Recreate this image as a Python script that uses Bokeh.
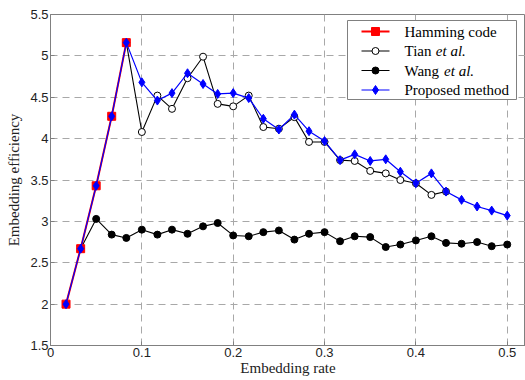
from bokeh.plotting import figure
from bokeh.models import Range1d, FixedTicker, CustomJSTickFormatter
from bokeh.core.properties import value
from bokeh.embed import file_html
from bokeh.resources import INLINE

# Embedding rate (x) for every test point
rate = [0.017, 0.033, 0.050, 0.067, 0.083, 0.100, 0.117, 0.133, 0.150, 0.167,
        0.183, 0.200, 0.217, 0.233, 0.250, 0.267, 0.283, 0.300, 0.317, 0.333,
        0.350, 0.367, 0.383, 0.400, 0.417, 0.433, 0.450, 0.467, 0.483, 0.500]

# Embedding efficiency per method
hamming = [2.00, 2.67, 3.43, 4.27, 5.16]                     # rate[0:5]
tian = [5.16, 4.08, 4.52, 4.36, 4.73, 4.99, 4.42, 4.39, 4.52, 4.14, 4.12,
        4.26, 3.96, 3.96, 3.74, 3.73, 3.61, 3.58, 3.50, 3.46, 3.32, 3.36]  # rate[4:26]
wang = [2.67, 3.03, 2.84, 2.80, 2.90, 2.84, 2.90, 2.85, 2.94, 2.98, 2.83,
        2.82, 2.87, 2.89, 2.78, 2.85, 2.87, 2.76, 2.82, 2.81, 2.69, 2.72,
        2.77, 2.82, 2.74, 2.73, 2.75, 2.70, 2.72]             # rate[1:30]
proposed = [2.00, 2.67, 3.43, 4.27, 5.16, 4.68, 4.46, 4.55, 4.79, 4.66,
            4.54, 4.55, 4.49, 4.24, 4.11, 4.29, 4.09, 3.97, 3.74, 3.81,
            3.73, 3.75, 3.60, 3.46, 3.58, 3.36, 3.26, 3.18, 3.13, 3.07]  # rate[0:30]

x_ticks = [0, 0.1, 0.2, 0.3, 0.4, 0.5]
y_ticks = [1.5, 2, 2.5, 3, 3.5, 4, 4.5, 5, 5.5]

legend_names = ["Hamming code", "Tian", "Wang", "Proposed method"]
legend_suffix = ["", "et al.", "et al.", ""]

X_MAX = 0.52
Y_MIN, Y_MAX = 1.5, 5.5
W, H = 525, 380
B_LEFT, B_RIGHT, B_TOP, B_BOTTOM = 50, 0, 14, 35
FRAME_W = W - B_LEFT - B_RIGHT
FRAME_H = H - B_TOP - B_BOTTOM

AXIS_GREY = "#808080"
GRID_GREY = "#a8a8a8"
SERIF = "Liberation Serif"


def px_x(px):
    """canvas pixel column -> data x"""
    return (px - B_LEFT) / FRAME_W * X_MAX


def px_y(py):
    """canvas pixel row -> data y"""
    return Y_MAX - (py - B_TOP) / FRAME_H * (Y_MAX - Y_MIN)


p = figure(width=W, height=H,
           x_range=Range1d(0, X_MAX), y_range=Range1d(Y_MIN, Y_MAX),
           min_border_left=B_LEFT, min_border_right=B_RIGHT,
           min_border_top=B_TOP, min_border_bottom=B_BOTTOM,
           output_backend="svg", toolbar_location=None)
p.outline_line_color = AXIS_GREY
p.background_fill_color = "white"
p.border_fill_color = "white"

fmt = CustomJSTickFormatter(code="return String(Math.round(tick * 100) / 100);")
xt = FixedTicker(ticks=x_ticks)
yt = FixedTicker(ticks=y_ticks)
p.xaxis.ticker = xt
p.yaxis.ticker = yt
p.xgrid.ticker = xt
p.ygrid.ticker = yt

for ax in (p.xaxis[0], p.yaxis[0]):
    ax.formatter = fmt
    ax.axis_line_color = AXIS_GREY
    ax.major_tick_line_color = AXIS_GREY
    ax.major_tick_in = 4
    ax.major_tick_out = 0
    ax.minor_tick_line_color = None
    ax.major_label_text_font = "Liberation Sans"
    ax.major_label_text_font_size = "13px"
    ax.major_label_text_color = "#222222"
    ax.major_label_standoff = 2
    ax.axis_label_text_font = SERIF
    ax.axis_label_text_font_size = "15px"
    ax.axis_label_text_font_style = "normal"
    ax.axis_label_text_color = "#222222"

p.xaxis.axis_label = "Embedding rate"
p.yaxis.axis_label = "Embedding efficiency"
p.xaxis.axis_label_standoff = 0
p.yaxis.axis_label_standoff = 5

for g in (p.xgrid[0], p.ygrid[0]):
    g.grid_line_color = GRID_GREY
    g.grid_line_dash = "7 5"
    g.grid_line_width = 1

# marker / line style of each series, in legend order
styles = [
    dict(line=dict(line_color="red", line_width=2),
         mark=dict(marker="square", size=8, fill_color="red", line_color="red")),
    dict(line=dict(line_color="black", line_width=1.1),
         mark=dict(marker="circle", size=7, fill_color="white", line_color="black")),
    dict(line=dict(line_color="black", line_width=1.1),
         mark=dict(marker="circle", size=7, fill_color="black", line_color="black")),
    dict(line=dict(line_color="blue", line_width=1.2),
         mark=dict(marker="diamond", size=9, fill_color="blue", line_color="blue")),
]

# series (drawn bottom to top)
series = [(rate[1:30], wang, styles[2]),
          (rate[4:26], tian, styles[1]),
          (rate[0:5], hamming, styles[0]),
          (rate, proposed, styles[3])]
for xs, ys, st in series:
    p.line(xs, ys, **st["line"])
    p.scatter(xs, ys, **st["mark"])

# legend box (canvas pixels)
BOX_L, BOX_R, BOX_T, BOX_B = 347, 516, 20, 99
ROW0, ROW_STEP = 31, 19.5
GLYPH_L, GLYPH_R = 361, 389
TEXT_X = 404
SUFFIX_DX = {"Tian": 31.3, "Wang": 39.6}

p.quad(left=[px_x(BOX_L)], right=[px_x(BOX_R)], top=[px_y(BOX_T)], bottom=[px_y(BOX_B)],
       fill_color="white", line_color=AXIS_GREY, line_width=1)

for i, (name, suffix, st) in enumerate(zip(legend_names, legend_suffix, styles)):
    yc = px_y(ROW0 + i * ROW_STEP)
    p.line([px_x(GLYPH_L), px_x(GLYPH_R)], [yc, yc], **st["line"])
    p.scatter([px_x((GLYPH_L + GLYPH_R) / 2)], [yc], **st["mark"])
    p.text([px_x(TEXT_X)], [yc], text=[name], text_font=value(SERIF),
           text_font_size="15px", text_color="black",
           text_baseline="middle", text_align="left")
    if suffix:
        p.text([px_x(TEXT_X + SUFFIX_DX[name])], [yc], text=[suffix],
               text_font=value(SERIF), text_font_style="italic",
               text_font_size="15px", text_color="black",
               text_baseline="middle", text_align="left")

open("out.html", "w").write(file_html(p, INLINE))
